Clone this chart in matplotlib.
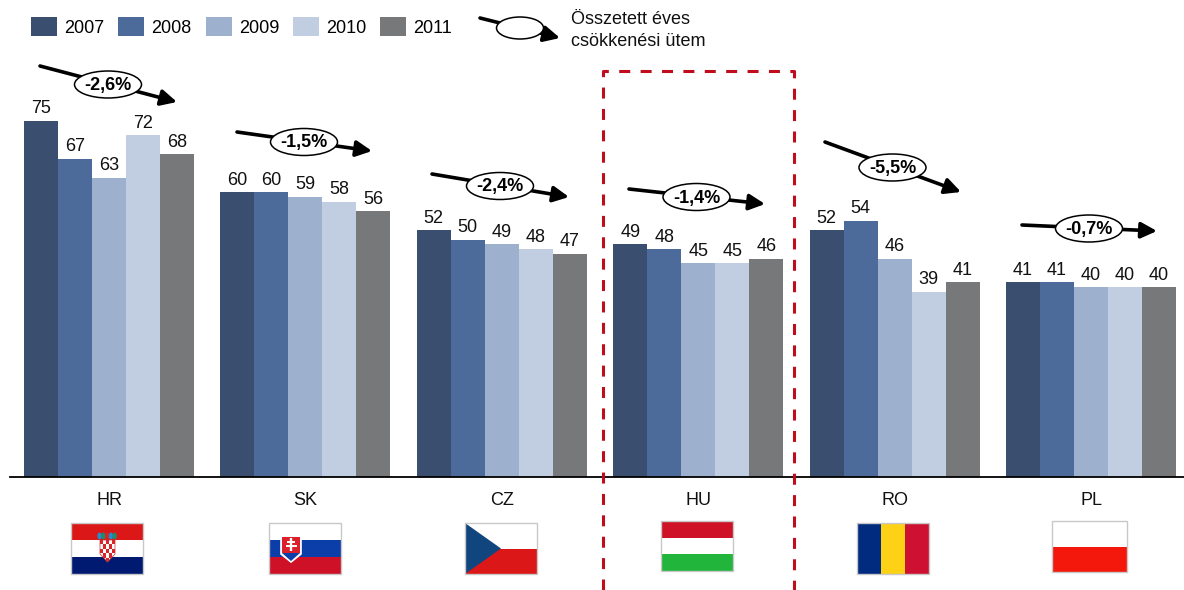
"""Labour-cost bars by country, 2007-2011, with compound annual decline arrows."""

import matplotlib

matplotlib.use("Agg")
import matplotlib.pyplot as plt
import numpy as np
from matplotlib.patches import Ellipse, Patch, Polygon, Rectangle

plt.rcParams["font.family"] = ["Liberation Sans", "DejaVu Sans"]

COUNTRIES = ["HR", "SK", "CZ", "HU", "RO", "PL"]
YEARS = ["2007", "2008", "2009", "2010", "2011"]
COLORS = ["#3A4E6F", "#4C6B9A", "#9DB0CE", "#C1CDE0", "#77787A"]

V2007 = [75, 60, 52, 49, 52, 41]
V2008 = [67, 60, 50, 48, 54, 41]
V2009 = [63, 59, 49, 45, 46, 40]
V2010 = [72, 58, 48, 45, 39, 40]
V2011 = [68, 56, 47, 46, 41, 40]
DECLINE = ["-2,6%", "-1,5%", "-2,4%", "-1,4%", "-5,5%", "-0,7%"]

W, H = 1184, 590
BASE_Y = 477
GROUP_PX = 196.4
FIRST_PX = 109
BAR_PX = 34
PX_PER_UNIT = 4.75
FONT_SIZE = 13


def arrow(ax, x0, y0, x1, y1, size=19):
    ax.annotate(
        "",
        xy=(x1, y1),
        xytext=(x0, y0),
        arrowprops=dict(
            arrowstyle="-|>,head_length=0.5,head_width=0.25",
            color="black",
            lw=2.6,
            mutation_scale=size,
            shrinkA=0,
            shrinkB=0,
            capstyle="round",
        ),
        zorder=3,
    )


def rate_badge(ax, x0, y0, x1, y1, text):
    arrow(ax, x0, y0, x1, y1)
    cx, cy = (x0 + x1) / 2 - 0.5, (y0 + y1) / 2 + 0.5
    ax.add_patch(Ellipse((cx, cy), 67, 27, fc="white", ec="black", lw=1.1, zorder=4))
    ax.text(cx, cy + 1, text, ha="center", va="center", fontsize=FONT_SIZE, fontweight="bold", zorder=5)


def flag_frame(ax, x, y, w, h):
    ax.add_patch(Rectangle((x, y), w, h, fc="none", ec="#C8C8C8", lw=1.0, zorder=4))


def stripes_h(ax, x, y, w, h, colors):
    step = h / len(colors)
    for i, c in enumerate(colors):
        ax.add_patch(Rectangle((x, y + i * step), w, step, fc=c, ec="none", zorder=3))
    flag_frame(ax, x, y, w, h)


def flag_hr(ax, x, y, w=72, h=51):
    stripes_h(ax, x, y, w, h, ["#DB1718", "#FFFFFF", "#001A72"])
    # crown row above the chequered shield
    for i, c in enumerate(["#1F8FCF", "#1B8E6E", "#D9252A", "#1F8FCF", "#1B8E6E"]):
        ax.add_patch(Ellipse((x + 28.5 + i * 3.8, y + 13), 4.2, 7, fc=c, ec="none", zorder=5))
    sx, sy, cell = x + 29, y + 17, 3.0
    outline = [(sx, sy), (sx + 5 * cell, sy), (sx + 5 * cell, sy + 14),
               (sx + 2.5 * cell, sy + 22), (sx, sy + 14)]
    shield = Polygon(outline, fc="white", ec="#D9252A", lw=0.5, zorder=5)
    ax.add_patch(shield)
    for r in range(5):
        for c in range(5):
            if (r + c) % 2 == 0:
                sq = Rectangle((sx + c * cell, sy + r * 4.4), cell, 4.4, fc="#D9252A", ec="none", zorder=6)
                ax.add_patch(sq)
                sq.set_clip_path(shield)


def flag_sk(ax, x, y, w=72, h=51):
    stripes_h(ax, x, y, w, h, ["#FFFFFF", "#0B3EA8", "#CE1126"])
    sx, sy = x + 12, y + 13
    ax.add_patch(Polygon(
        [(sx, sy), (sx + 20, sy), (sx + 20, sy + 18), (sx + 10, sy + 26), (sx, sy + 18)],
        fc="white", ec="white", lw=1.2, zorder=5))
    ax.add_patch(Polygon(
        [(sx + 1, sy + 1), (sx + 19, sy + 1), (sx + 19, sy + 17), (sx + 1, sy + 17)],
        fc="#DB1F2B", ec="none", zorder=5))
    ax.add_patch(Polygon(
        [(sx + 1, sy + 17), (sx + 19, sy + 17), (sx + 10, sy + 25)],
        fc="#0B3EA8", ec="none", zorder=5))
    ax.plot([sx + 10, sx + 10], [sy + 2, sy + 15], color="white", lw=1.7, solid_capstyle="butt", zorder=6)
    ax.plot([sx + 6, sx + 14], [sy + 6, sy + 6], color="white", lw=1.4, solid_capstyle="butt", zorder=6)
    ax.plot([sx + 4.5, sx + 15.5], [sy + 10, sy + 10], color="white", lw=1.4, solid_capstyle="butt", zorder=6)


def flag_cz(ax, x, y, w=72, h=51):
    stripes_h(ax, x, y, w, h, ["#FFFFFF", "#DB1718"])
    ax.add_patch(Polygon([(x, y), (x + 36, y + h / 2), (x, y + h)], fc="#11457E", ec="none", zorder=3.5))


def flag_ro(ax, x, y, w=72, h=51):
    for i, c in enumerate(["#002B7F", "#FCD116", "#CE1133"]):
        ax.add_patch(Rectangle((x + i * w / 3, y), w / 3, h, fc=c, ec="none", zorder=3))
    flag_frame(ax, x, y, w, h)


fig = plt.figure(figsize=(W / 100, H / 100), dpi=100, facecolor="white")
ax = fig.add_axes([10 / W, (H - BASE_Y) / H, (W - 10) / W, BASE_Y / H])

series = [V2007, V2008, V2009, V2010, V2011]
xs = np.arange(len(COUNTRIES))
bar_w = BAR_PX / GROUP_PX
for i, (vals, color) in enumerate(zip(series, COLORS)):
    bars = ax.bar(xs + (i - 2) * bar_w, vals, bar_w, color=color, linewidth=0)
    ax.bar_label(bars, labels=[str(v) for v in vals], padding=2.5, fontsize=FONT_SIZE, color="#111111")

ax.set_xlim((10 - FIRST_PX) / GROUP_PX, (W - FIRST_PX) / GROUP_PX)
ax.set_ylim(0, BASE_Y / PX_PER_UNIT)
ax.set_xticks(xs)
ax.set_xticklabels(COUNTRIES, fontsize=FONT_SIZE, color="#111111")
ax.tick_params(axis="x", length=0, pad=10.5)
ax.set_yticks([])
for side in ["top", "left", "right"]:
    ax.spines[side].set_visible(False)
ax.spines["bottom"].set_linewidth(1.3)
ax.patch.set_alpha(0)

handles = [Patch(fc=c, ec="none") for c in COLORS]
fig.legend(
    handles,
    YEARS,
    ncols=5,
    loc="upper left",
    bbox_to_anchor=(31 / W, 1 - 17 / H),
    frameon=False,
    fontsize=FONT_SIZE,
    handlelength=1.44,
    handleheight=1.24,
    handletextpad=0.39,
    columnspacing=0.78,
    borderpad=0,
    borderaxespad=0,
)

# overlay in pixel space for the arrows, flags and highlight box
ov = fig.add_axes([0, 0, 1, 1], zorder=5)
ov.set_xlim(0, W)
ov.set_ylim(H, 0)
ov.axis("off")

rate_badge(ov, 40, 66, 177, 102, DECLINE[0])
rate_badge(ov, 237, 132, 372, 151, DECLINE[1])
rate_badge(ov, 432, 174, 569, 197, DECLINE[2])
rate_badge(ov, 629, 189, 765, 204, DECLINE[3])
rate_badge(ov, 825, 142, 961, 192, DECLINE[4])
rate_badge(ov, 1022, 225, 1157, 231, DECLINE[5])

arrow(ov, 480, 18, 560, 38)
ov.add_patch(Ellipse((520, 28), 47, 22, fc="white", ec="black", lw=1.1, zorder=4))
ov.text(571, 20, "Összetett éves", va="center", fontsize=FONT_SIZE, color="#111111")
ov.text(571, 41, "csökkenési ütem", va="center", fontsize=FONT_SIZE, color="#111111")

ov.plot(
    [602.5, 602.5, 794, 794],
    [590, 70.5, 70.5, 590],
    color="#C00D1E",
    lw=2.2,
    linestyle=(0, (3.6, 3.4)),
    dash_capstyle="butt",
    zorder=2,
)

flag_hr(ov, 71, 523)
flag_sk(ov, 269, 523)
flag_cz(ov, 465, 523)
stripes_h(ov, 661, 521, 72, 50, ["#CE1126", "#FFFFFF", "#21B53C"])
flag_ro(ov, 857, 523)
stripes_h(ov, 1052, 521, 75, 51, ["#FFFFFF", "#F4180C"])

fig.savefig("out.png", dpi=100, facecolor="white")
plt.close(fig)
